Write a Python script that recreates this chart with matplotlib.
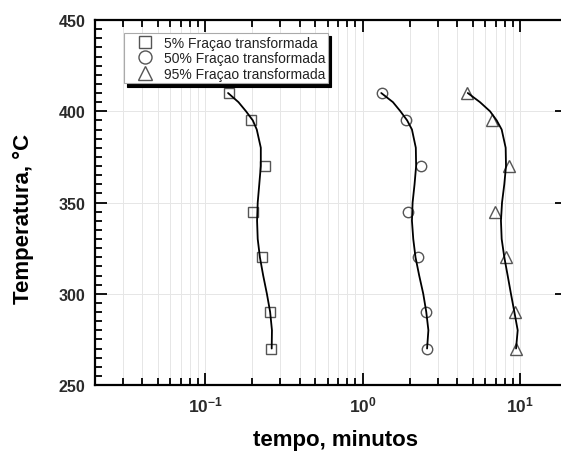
import matplotlib
matplotlib.use('Agg')
import matplotlib.pyplot as plt
from matplotlib.ticker import FixedLocator, LogLocator, NullFormatter, FixedFormatter, MultipleLocator

plt.rcParams['font.family'] = ['Liberation Sans', 'DejaVu Sans']
plt.rcParams['mathtext.fontset'] = 'custom'
plt.rcParams['mathtext.rm'] = 'Liberation Sans:bold'
plt.rcParams['mathtext.bf'] = 'Liberation Sans:bold'
plt.rcParams['mathtext.it'] = 'Liberation Sans:bold:italic'
plt.rcParams['mathtext.default'] = 'bf'

# ---- data ----
temps = [410, 395, 370, 345, 320, 290, 270]
t5 = [0.141, 0.195, 0.240, 0.201, 0.231, 0.259, 0.261]
t50 = [1.325, 1.88, 2.35, 1.94, 2.26, 2.53, 2.56]
t95 = [4.59, 6.67, 8.51, 6.93, 8.11, 9.30, 9.39]

curve_T = [410, 405, 400, 395, 390, 380, 370, 360, 350, 340, 330, 320, 310, 300, 290, 280, 270]
curve5 = [0.140, 0.163, 0.182, 0.201, 0.213, 0.226, 0.226, 0.221, 0.216, 0.214, 0.216, 0.223,
          0.234, 0.247, 0.259, 0.266, 0.265]
curve50 = [1.315, 1.56, 1.74, 1.92, 2.06, 2.18, 2.19, 2.14, 2.08, 2.06, 2.10, 2.17,
           2.29, 2.43, 2.54, 2.62, 2.57]
curve95 = [4.66, 5.57, 6.45, 7.11, 7.65, 8.11, 8.15, 7.95, 7.69, 7.57, 7.65, 7.95,
           8.35, 8.76, 9.21, 9.67, 9.44]

labels = ['5% Fraçao transformada', '50% Fraçao transformada', '95% Fraçao transformada']
xtick_vals = [0.1, 1, 10]
xtick_labels = [r'$10^{-1}$', r'$10^{0}$', r'$10^{1}$']
ytick_vals = [250, 300, 350, 400, 450]

fig = plt.figure(figsize=(5.61, 4.52), dpi=100)
ax = fig.add_axes([0.1693, 0.146, 0.8421, 0.8075])

ax.set_xscale('log')
ax.set_xlim(0.02, 20)
ax.set_ylim(250, 450)

gray = '#555555'
mk = dict(markerfacecolor='none', markeredgecolor=gray, markeredgewidth=1.0, linestyle='none', zorder=3)
h1, = ax.plot(t5, temps, marker='s', markersize=7, label=labels[0], **mk)
h2, = ax.plot(t50, temps, marker='o', markersize=7.5, label=labels[1], **mk)
h3, = ax.plot(t95, temps, marker='^', markersize=8.5, label=labels[2], **mk)

for c in (curve5, curve50, curve95):
    ax.plot(c, curve_T, color='black', lw=1.3, zorder=4, solid_capstyle='round')

# grid
ax.grid(which='both', axis='x', color='#e6e6e6', lw=0.7, zorder=0)
ax.grid(which='major', axis='y', color='#e6e6e6', lw=0.7, zorder=0)
ax.set_axisbelow(True)

# ticks
ax.xaxis.set_major_locator(FixedLocator(xtick_vals))
ax.xaxis.set_major_formatter(FixedFormatter(xtick_labels))
ax.xaxis.set_minor_locator(LogLocator(base=10, subs=[2, 3, 4, 5, 6, 7, 8, 9], numticks=20))
ax.xaxis.set_minor_formatter(NullFormatter())
ax.yaxis.set_major_locator(FixedLocator(ytick_vals))
ax.yaxis.set_minor_locator(MultipleLocator(5))

ax.tick_params(which='both', direction='in', top=True, right=True, width=1.3, color='black')
ax.tick_params(which='minor', right=False)
ax.tick_params(which='major', length=8.4, pad=7)
ax.tick_params(which='minor', length=4.8)
ax.tick_params(axis='y', which='major', labelsize=11.5)
ax.tick_params(axis='x', which='major', labelsize=12.5, pad=7)
for lab in ax.get_yticklabels():
    lab.set_fontweight('bold')
    lab.set_color('#2a2a2a')
for lab in ax.get_xticklabels():
    lab.set_color('#2a2a2a')

for s in ax.spines.values():
    s.set_linewidth(1.6)

ax.set_xlabel('tempo, minutos', fontsize=16, fontweight='bold')
ax.set_ylabel('Temperatura, °C', fontsize=16, fontweight='bold')
ax.xaxis.set_label_coords((335.8 - 95) / (567.4 - 95), -(430 - 386) / 365.0)
ax.yaxis.set_label_coords(-(95 - 34) / 472.4, (386 - 219) / 365.0)

leg = ax.legend(handles=[h1, h2, h3], loc='upper left',
                bbox_to_anchor=(124 / 561, 1 - 34 / 452), bbox_transform=fig.transFigure,
                fontsize=10, frameon=True, fancybox=False, markerscale=1.25,
                shadow={'color': 'black', 'alpha': 1.0, 'ox': 2.5, 'oy': -2.5},
                handlelength=2.6, handletextpad=0.05, borderpad=0.2, labelspacing=0.1,
                borderaxespad=0.0, framealpha=1.0)
leg.get_frame().set_edgecolor('#aaaaaa')
leg.get_frame().set_linewidth(0.8)
for t in leg.get_texts():
    t.set_color('#222222')

fig.savefig('out.png', dpi=100)
